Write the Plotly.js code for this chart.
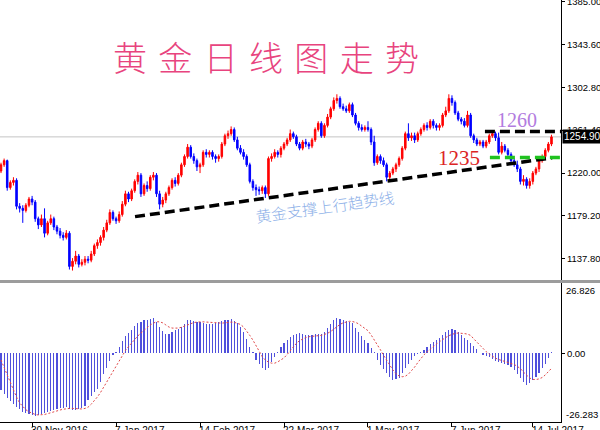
<!DOCTYPE html>
<html><head><meta charset="utf-8">
<script src="https://cdn.plot.ly/plotly-3.0.1.min.js"></script>
<style>html,body{margin:0;padding:0;background:#fff}#c{width:600px;height:430px}</style>
</head><body><div id="c"></div>
<script>
const openP = [
1222,1228,1232,1206,1211,1213,1188,1186,1184,1189,
1195,1192,1176,1170,1176,1162,1172,1176,1168,1164,
1160,1158,1162,1130,1135,1140,1132,1134,1137,1136,
1142,1150,1153,1158,1165,1172,1182,1176,1174,1180,
1190,1200,1195,1203,1212,1218,1200,1208,1205,1216,
1218,1200,1190,1194,1200,1206,1213,1210,1218,1228,
1236,1245,1236,1232,1226,1228,1240,1238,1240,1236,
1234,1236,1248,1256,1258,1262,1252,1244,1240,1236,
1228,1212,1206,1204,1203,1206,1200,1234,1236,1240,
1238,1244,1248,1252,1258,1255,1248,1244,1250,1248,
1246,1252,1262,1268,1256,1266,1274,1282,1290,1292,
1284,1282,1280,1286,1276,1268,1264,1262,1264,1262,
1250,1230,1236,1232,1228,1216,1220,1224,1228,1234,
1244,1258,1254,1256,1252,1258,1262,1266,1264,1270,
1266,1264,1266,1276,1280,1292,1288,1278,1272,1270,
1266,1276,1256,1252,1248,1250,1246,1250,1256,1258,
1254,1240,1246,1242,1238,1232,1228,1224,1212,1214,
1208,1212,1220,1224,1232,1236,1242,1248];
const closeP = [
1228,1232,1206,1211,1213,1188,1186,1184,1189,1195,
1192,1176,1170,1176,1162,1172,1176,1168,1164,1160,
1158,1162,1130,1135,1140,1132,1134,1137,1136,1142,
1150,1153,1158,1165,1172,1182,1176,1174,1180,1190,
1200,1195,1203,1212,1218,1200,1208,1205,1216,1218,
1200,1190,1194,1200,1206,1213,1210,1218,1228,1236,
1245,1236,1232,1226,1228,1240,1238,1240,1236,1234,
1236,1248,1256,1258,1262,1252,1244,1240,1236,1228,
1212,1206,1204,1203,1206,1200,1234,1236,1240,1238,
1244,1248,1252,1258,1255,1248,1244,1250,1248,1246,
1252,1262,1268,1256,1266,1274,1282,1290,1292,1284,
1282,1280,1286,1276,1268,1264,1262,1264,1262,1250,
1230,1236,1232,1228,1216,1220,1224,1228,1234,1244,
1258,1254,1256,1252,1258,1262,1266,1264,1270,1266,
1264,1266,1276,1280,1292,1288,1278,1272,1270,1266,
1276,1256,1252,1248,1250,1246,1250,1256,1258,1254,
1240,1246,1242,1238,1232,1228,1224,1212,1214,1208,
1212,1220,1224,1232,1236,1242,1248,1254.9];
const highP = [
1230,1234,1233,1213,1216,1215,1191,1189,1191,1197,
1198,1194,1178,1180,1186,1174,1180,1178,1170,1167,
1163,1165,1164,1138,1145,1142,1137,1140,1140,1145,
1152,1156,1160,1168,1175,1185,1184,1178,1183,1193,
1203,1202,1205,1214,1221,1220,1210,1212,1218,1221,
1220,1203,1197,1202,1208,1215,1216,1220,1230,1238,
1248,1247,1239,1234,1230,1242,1243,1242,1242,1238,
1238,1250,1258,1261,1265,1264,1255,1247,1243,1238,
1230,1214,1209,1207,1208,1208,1236,1239,1243,1242,
1246,1250,1254,1262,1260,1257,1250,1252,1253,1250,
1254,1264,1270,1270,1268,1277,1284,1293,1296,1294,
1287,1285,1288,1288,1278,1270,1267,1266,1270,1264,
1256,1238,1238,1235,1230,1222,1226,1230,1236,1246,
1260,1268,1259,1259,1260,1264,1268,1269,1272,1272,
1268,1268,1278,1284,1296,1295,1290,1280,1274,1273,
1280,1278,1258,1254,1252,1252,1252,1258,1260,1260,
1259,1250,1248,1244,1240,1234,1232,1226,1218,1216,
1215,1222,1226,1234,1238,1244,1250,1257];
const lowP = [
1220,1226,1203,1204,1208,1185,1182,1172,1182,1187,
1189,1173,1166,1168,1158,1160,1170,1165,1161,1157,
1155,1156,1127,1126,1132,1129,1130,1131,1133,1134,
1140,1147,1150,1155,1163,1170,1174,1171,1172,1178,
1188,1192,1193,1201,1209,1197,1198,1202,1203,1213,
1197,1185,1187,1191,1198,1204,1207,1208,1216,1226,
1234,1234,1229,1222,1220,1226,1235,1235,1233,1230,
1231,1234,1246,1253,1256,1250,1242,1238,1233,1226,
1210,1203,1198,1199,1200,1196,1198,1231,1234,1235,
1235,1242,1246,1250,1253,1246,1242,1242,1245,1243,
1244,1250,1260,1254,1254,1264,1272,1280,1287,1282,
1280,1278,1278,1274,1266,1261,1260,1260,1260,1247,
1227,1228,1229,1226,1212,1213,1218,1221,1226,1232,
1242,1251,1251,1249,1250,1256,1260,1261,1262,1263,
1261,1261,1264,1274,1278,1285,1276,1270,1267,1264,
1264,1254,1249,1246,1246,1244,1244,1248,1254,1251,
1238,1238,1240,1236,1230,1226,1221,1209,1208,1205,
1205,1209,1218,1221,1230,1234,1240,1246];
const macdMain = [
-14,-15.5,-17,-18.2,-19.3,-20.5,-21.5,-22.3,-22.8,-23.2,
-23.5,-24,-23.6,-23.2,-23,-22.6,-22.2,-21.8,-21.4,-21,
-20.8,-20.6,-21.5,-21.8,-21.6,-21.4,-21,-20,-18,-16.5,
-15,-13.5,-11,-8,-5.5,-3,-0.8,0.5,2.5,4.5,
6.5,7.8,9,10.5,11.5,12,12.5,12.8,13.2,13.5,
11.8,10,8.5,7.2,7.5,8.2,8.8,9.3,10,11.2,
12.5,12.8,12.4,12,11.8,11.5,11.3,11.2,11,11.5,
11.8,12.2,12.6,12.8,13,12.4,11.5,10,8,5.5,
2.5,0.3,-2.5,-4,-5.5,-6.5,-5.5,-3.5,-1.5,0.5,
2.5,3.8,5,6.2,7,7.5,7.7,7.2,7,7,
7.1,7.3,7.5,7.4,8,9.5,11,12.5,13.5,13.2,
12.7,12.2,12,11.5,9.5,8,6.5,5,3.8,2,
0.5,-2.5,-4.5,-6,-7.7,-9,-10.3,-10,-9.5,-7.7,
-5.5,-4,-2.7,-1,-0.3,0.3,1.2,2.5,3.5,4.2,
5,6,7,8,8.8,9.3,8.8,8,6.8,5.7,
5,4,2.8,1.5,0.2,-0.6,-1,-1.5,-2.3,-2.8,
-3.3,-3.8,-4.2,-4.6,-5.3,-6.5,-8,-9.5,-11,-12.2,
-11.5,-10.2,-9,-7.7,-5.8,-4,-2,0.5];
const macdSignal = [
-2.6,-5.5,-8.5,-11.5,-14.2,-16.8,-19,-20.5,-21.6,-22.4,
-23,-23.4,-23.6,-23.6,-23.4,-23.1,-22.7,-22.3,-22,-21.7,
-21.4,-21.2,-21.1,-21.1,-21.2,-21.3,-21.3,-21.1,-20.6,-19.5,
-18.2,-16.7,-15,-13,-11,-9,-7,-4.8,-2.7,-0.8,
1,2.5,4,5.4,6.6,7.7,8.8,9.9,10.8,11.5,
12,12,11.6,10.8,10,9.6,9.5,9.6,9.9,10.4,
11,11.4,11.7,11.9,12,12,11.9,11.8,11.7,11.6,
11.5,11.5,11.6,11.8,11.9,11.8,11.5,11,10,8.6,
6.8,5,3,1,-1.3,-2.6,-3.4,-3.8,-3.8,-3.3,
-2.6,-1.8,-0.5,1,2.5,3.8,4.8,5.5,6,6.3,
6.5,6.6,6.7,6.8,7.1,7.6,8.3,9.2,10.2,11,
11.6,12,12.2,12.1,11.8,11.2,10.4,9.6,8.6,7,
5.2,3.2,1.3,-0.8,-2.8,-4.7,-6.4,-7.8,-8.7,-9,
-8.8,-8,-6.7,-5.3,-3.6,-2,-0.6,0.5,1.6,2.6,
3.5,4.4,5.3,6,6.7,7.3,7.6,7.7,7.7,7.5,
7.3,6.8,5.5,4.2,3,1.8,0.6,-0.3,-1.2,-1.9,
-2.4,-2.8,-3.1,-3.4,-3.8,-4.3,-5,-5.9,-7.2,-8.5,
-9.5,-10,-10.1,-9.8,-9.3,-8.3,-7,-5.8];
const tickIdx = [10,37,64,91,118,145,171];
const tickText = ['30 Nov 2016','7 Jan 2017','14 Feb 2017','22 Mar 2017','1 May 2017','7 Jun 2017','14 Jul 2017'];
const priceTicks = [1385.00,1343.60,1302.80,1261.40,1220.00,1179.20,1137.80];
const macdTicks = [26.826,0,-26.283];
const trendIdx = [43.1,177.2];
const trendPrice = [1178,1234.7];
const resistLevel = 1260, supportLevel = 1235;
const resistStart = 155.6, supportStart = 157.2;

const idx = openP.map((_, i) => i);
const lastPrice = closeP[closeP.length - 1];

const traces = [
 {type:'candlestick', x: idx, open: openP, high: highP, low: lowP, close: closeP,
  xaxis:'x', yaxis:'y', whiskerwidth:0, hoverinfo:'skip', showlegend:false,
  increasing:{line:{color:'#ff0000',width:1}, fillcolor:'#ff0000'},
  decreasing:{line:{color:'#0000ff',width:1}, fillcolor:'#0000ff'}},
 {type:'bar', x: idx, y: macdMain, xaxis:'x', yaxis:'y2', width:0.38,
  marker:{color:'#5050dc', line:{width:0}}, showlegend:false, hoverinfo:'skip'},
 {type:'scatter', mode:'lines', x: idx, y: macdSignal, xaxis:'x', yaxis:'y2',
  line:{color:'#e04848', width:1, dash:'2px,2px'}, showlegend:false, hoverinfo:'skip'}
];

const xr = [-0.32, 180.06];
const shapes = [
 {type:'line', xref:'x', yref:'y', x0:xr[0], x1:xr[1], y0:lastPrice, y1:lastPrice, line:{color:'#c4c4c4', width:1}, layer:'below'},
 {type:'line', xref:'paper', yref:'paper', x0:0, x1:600/561, y0:(422-281.5)/422, y1:(422-281.5)/422, line:{color:'#9c9c9c', width:3}},
 {type:'line', xref:'x', yref:'y', x0:trendIdx[0], x1:trendIdx[1], y0:trendPrice[0], y1:trendPrice[1], line:{color:'#000000', width:3.5, dash:'10px,5px'}},
 {type:'line', xref:'x', yref:'y', x0:resistStart, x1:xr[1], y0:resistLevel, y1:resistLevel, line:{color:'#000000', width:3.5, dash:'10px,5px'}},
 {type:'line', xref:'x', yref:'y', x0:supportStart, x1:xr[1]+2, y0:supportLevel, y1:supportLevel, line:{color:'#1fc21f', width:3.5, dash:'10px,5px'}}
];

const annotations = [
 {text:'黄\u2004金\u2004日\u2004线\u2004图\u2004走\u2004势', xref:'paper', yref:'paper', x:266/561, y:(422-56)/422, xanchor:'center', yanchor:'middle', showarrow:false,
  font:{family:'Noto Sans CJK SC', size:34, weight:300, color:'#e8447e'}},
 {text:'1260', xref:'x', yref:'y', x:166, y:1271.5, xanchor:'center', yanchor:'middle', showarrow:false,
  font:{family:'Liberation Serif', size:20, color:'#b27ce0'}},
 {text:'1235', xref:'x', yref:'y', x:147.2, y:1234.3, xanchor:'center', yanchor:'middle', showarrow:false,
  font:{family:'Liberation Serif', size:21, color:'#dc2424'}},
 {text:'黄金支撑上行趋势线', xref:'paper', yref:'paper', x:325/561, y:(422-205.5)/422, xanchor:'center', yanchor:'middle', showarrow:false, textangle:-8,
  font:{family:'Noto Sans CJK SC', size:15.5, weight:300, color:'#8db0e8'}},
 {text:lastPrice.toFixed(2), xref:'paper', yref:'y', x:1, y:lastPrice, xanchor:'left', yanchor:'middle', xshift:1, showarrow:false,
  bgcolor:'#000000', borderpad:1, font:{family:'Liberation Sans', size:10, color:'#ffffff'}},
 {text:macdTicks[0].toFixed(3), xref:'paper', yref:'y2', x:1, y:macdTicks[0], xanchor:'left', yanchor:'top', xshift:3, showarrow:false,
  font:{family:'Liberation Sans', size:9.5, color:'#000'}},
 {text:macdTicks[2].toFixed(3), xref:'paper', yref:'y2', x:1, y:macdTicks[2], xanchor:'left', yanchor:'bottom', xshift:3, showarrow:false,
  font:{family:'Liberation Sans', size:9.5, color:'#000'}}
];
tickIdx.forEach((t, k) => annotations.push({text:tickText[k], xref:'x', yref:'paper', x:t, y:(422-423.5)/422,
  xanchor:'left', yanchor:'top', xshift:-3, showarrow:false, font:{family:'Liberation Sans', size:10, color:'#000'}}));

const layout = {
 width:600, height:430, margin:{l:0, r:39, t:0, b:8}, paper_bgcolor:'#fff', plot_bgcolor:'#fff',
 showlegend:false, bargap:0,
 xaxis:{domain:[0,1], range:xr, anchor:'y2', rangeslider:{visible:false}, showgrid:false, zeroline:false,
  showline:true, linecolor:'#000', linewidth:1, ticks:'outside', ticklen:4, tickcolor:'#000',
  tickvals:tickIdx, showticklabels:false},
 yaxis:{domain:[(422-280)/422,1], range:[1116.9,1386.9], side:'right', anchor:'x', showgrid:false, zeroline:false,
  showline:true, linecolor:'#000', linewidth:1, ticks:'outside', ticklen:3, tickcolor:'#000', ticklabeloverflow:'allow',
  tickvals:priceTicks, ticktext:priceTicks.map(v => v.toFixed(2)), tickfont:{family:'Liberation Sans', size:9.5, color:'#000'}},
 yaxis2:{domain:[0,(422-283)/422], range:[macdTicks[2], macdTicks[0]], side:'right', anchor:'x', showgrid:false, zeroline:false,
  showline:true, linecolor:'#000', linewidth:1, ticks:'outside', ticklen:3, tickcolor:'#000',
  tickvals:[macdTicks[1]], ticktext:[macdTicks[1].toFixed(2)], tickfont:{family:'Liberation Sans', size:9.5, color:'#000'}},
 shapes, annotations
};
Plotly.newPlot('c', traces, layout, {staticPlot:true, displayModeBar:false});
</script></body></html>
